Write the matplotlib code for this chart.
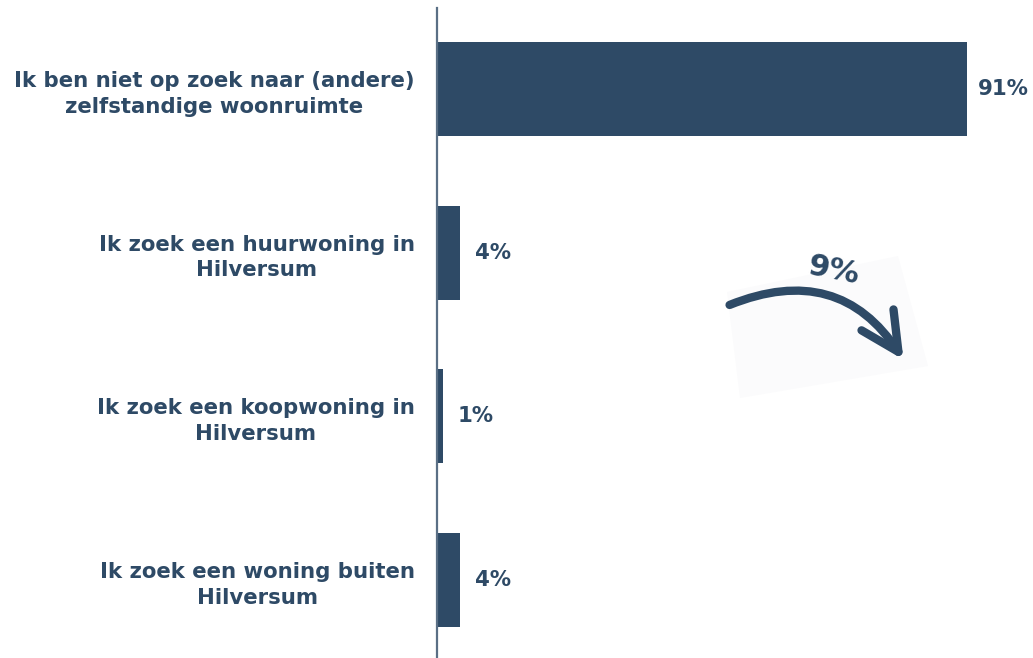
import matplotlib.pyplot as plt
from matplotlib.patches import FancyArrowPatch, Polygon

categories = ["Ik ben niet op zoek naar (andere)\nzelfstandige woonruimte",
              "Ik zoek een huurwoning in\nHilversum",
              "Ik zoek een koopwoning in\nHilversum",
              "Ik zoek een woning buiten\nHilversum"]
values = [91, 4, 1, 4]
value_labels = ["91%", "4%", "1%", "4%"]
arrow_label = "9%"

navy = "#2E4A66"

fig = plt.figure(figsize=(10.33, 6.58), dpi=100)
ax = fig.add_axes([437 / 1033, 0, 1 - 437 / 1033, 1 - 8 / 658])

pos = range(len(values))
ax.barh(pos, values, height=0.575, color=navy)
for p, v, lab in zip(pos, values, value_labels):
    off = 1.9 if v > 50 else 2.6
    ax.text(v + off, p, lab, va="center", ha="left", fontsize=15.3,
            fontweight="bold", color=navy)

ax.set_xlim(0, 102.3)
ax.set_ylim(3.476, -0.495)
ax.set_yticks(list(pos))
ax.set_yticklabels(categories, fontsize=15.3, fontweight="bold", color=navy,
                   linespacing=1.35)
for t in ax.get_yticklabels():
    t.set_multialignment("center")
ax.tick_params(axis="y", length=0, pad=16)
ax.set_xticks([])
for s in ["top", "right", "bottom"]:
    ax.spines[s].set_visible(False)
ax.spines["left"].set_color("#5A6F85")
ax.spines["left"].set_linewidth(1.6)

# hand drawn arrow sticker with the 9% total
W, H = 1033, 658
def f(x, y):
    return (x / W, 1 - y / H)

bg = Polygon([f(727, 292), f(898, 256), f(928, 366), f(740, 398)],
             closed=True, transform=fig.transFigure, facecolor="#FBFBFC",
             edgecolor="none", zorder=1)
fig.patches.append(bg)
arr = FancyArrowPatch(f(727, 306), f(905, 362), transform=fig.transFigure,
                      connectionstyle="arc3,rad=-0.42",
                      arrowstyle="->,head_length=11,head_width=5.5",
                      mutation_scale=2.5, lw=6, color=navy, zorder=2,
                      capstyle="round", joinstyle="round")
fig.patches.append(arr)
fig.text(834 / W, 1 - 271 / H, arrow_label, ha="center", va="center",
         fontsize=22, fontweight="bold", color=navy, rotation=-11, zorder=3)

fig.savefig("out.png", dpi=100)
